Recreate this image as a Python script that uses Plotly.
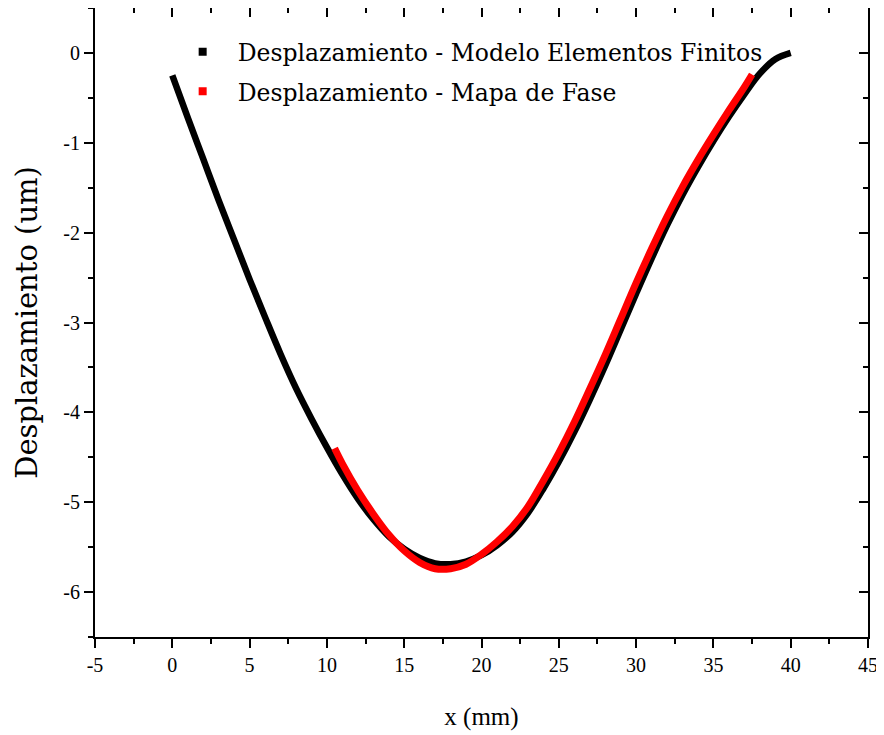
import plotly.graph_objects as go

# ---- data ----
fem_x = [0, 1, 2, 3, 4, 5, 6, 7, 8, 9, 10, 11, 12, 13, 14, 15, 16, 17, 18, 19, 20,
         21, 22, 23, 24, 25, 26, 27, 28, 29, 30, 31, 32, 33, 34, 35, 36, 37, 38, 39, 40]
fem_y = [-0.25, -0.72, -1.18, -1.64, -2.08, -2.52, -2.94, -3.35, -3.73, -4.07, -4.39,
         -4.69, -4.96, -5.19, -5.38, -5.52, -5.62, -5.68, -5.69, -5.66, -5.59,
         -5.48, -5.33, -5.12, -4.85, -4.55, -4.22, -3.86, -3.48, -3.08, -2.68,
         -2.29, -1.92, -1.58, -1.27, -0.98, -0.71, -0.46, -0.23, -0.07, 0.0]

phase_x = [10.5, 11, 12, 13, 14, 15, 16, 17, 18, 19, 20, 21, 22, 23, 24, 25, 26, 27,
           28, 29, 30, 31, 32, 33, 34, 35, 36, 37, 37.5]
phase_y = [-4.40, -4.57, -4.87, -5.13, -5.36, -5.54, -5.67, -5.74, -5.74, -5.69, -5.58,
           -5.44, -5.27, -5.05, -4.76, -4.45, -4.11, -3.74, -3.36, -2.96, -2.56,
           -2.18, -1.82, -1.49, -1.19, -0.91, -0.64, -0.38, -0.24]

series_names = ["Desplazamiento - Modelo Elementos Finitos",
                "Desplazamiento - Mapa de Fase"]

x_tickvals = [-5, 0, 5, 10, 15, 20, 25, 30, 35, 40, 45]
x_ticktext = ["-5", "0", "5", "10", "15", "20", "25", "30", "35", "40", "45"]
y_tickvals = [0, -1, -2, -3, -4, -5, -6]
y_ticktext = ["0", "-1", "-2", "-3", "-4", "-5", "-6"]

x_title = "x (mm)"
y_title = "Desplazamiento (um)"

# ---- figure ----
fig = go.Figure()

fig.add_trace(go.Scatter(x=fem_x, y=fem_y, mode="lines",
                         line=dict(color="black", width=6.5, shape="spline", smoothing=1.0),
                         showlegend=False, hoverinfo="skip"))
fig.add_trace(go.Scatter(x=phase_x, y=phase_y, mode="lines",
                         line=dict(color="#ff0000", width=7, shape="spline", smoothing=1.0),
                         showlegend=False, hoverinfo="skip"))

# legend entries (square markers as in reference)
fig.add_trace(go.Scatter(x=[None], y=[None], mode="markers", name=series_names[0],
                         marker=dict(symbol="square", size=8, color="black"), legendgroup="a"))
fig.add_trace(go.Scatter(x=[None], y=[None], mode="markers", name=series_names[1],
                         marker=dict(symbol="square", size=8, color="#ff0000"), legendgroup="b"))

# dummy trace for mirrored axes
fig.add_trace(go.Scatter(x=[None], y=[None], xaxis="x2", yaxis="y2", showlegend=False, hoverinfo="skip"))

tickfont = dict(family="Liberation Serif", size=20, color="black")

common = dict(showline=True, linecolor="black", linewidth=2, tickcolor="black",
              tickwidth=2, ticklen=9, showgrid=False, zeroline=False, automargin=False)

fig.update_layout(
    width=876, height=727,
    margin=dict(l=87, r=16, t=0, b=98),
    paper_bgcolor="white", plot_bgcolor="white",
    xaxis=dict(range=[-5, 45], tickmode="array", tickvals=x_tickvals, ticktext=x_ticktext,
               ticks="outside", tickfont=tickfont,
               minor=dict(ticks="outside", ticklen=5, tickwidth=2, tickcolor="black", dtick=2.5, tick0=0),
               title=dict(text=x_title, font=dict(family="Liberation Serif", size=25, color="black"), standoff=32),
               **common),
    yaxis=dict(range=[-6.5, 0.5], tickmode="array", tickvals=y_tickvals, ticktext=y_ticktext,
               ticks="outside", tickfont=tickfont,
               minor=dict(ticks="outside", ticklen=5, tickwidth=2, tickcolor="black", dtick=0.5, tick0=0),
               title=dict(text=y_title, font=dict(family="DejaVu Serif", size=29, color="black"), standoff=17),
               **common),
    xaxis2=dict(range=[-5, 45], overlaying="x", side="top", anchor="y2", tickmode="array",
                tickvals=x_tickvals, ticks="inside", showticklabels=False,
                minor=dict(ticks="inside", ticklen=5, tickwidth=2, tickcolor="black", dtick=2.5, tick0=0),
                **common),
    yaxis2=dict(range=[-6.5, 0.5], overlaying="y", side="right", anchor="x2", tickmode="array",
                tickvals=y_tickvals, ticks="inside", showticklabels=False,
                minor=dict(ticks="inside", ticklen=5, tickwidth=2, tickcolor="black", dtick=0.5, tick0=0),
                **common),
    legend=dict(x=0.094, y=0.965, xanchor="left", yanchor="top", bgcolor="rgba(0,0,0,0)",
                font=dict(family="DejaVu Serif", size=23.5, color="black"), itemwidth=60,
                tracegroupgap=6),
)

fig.write_html("out.html")
